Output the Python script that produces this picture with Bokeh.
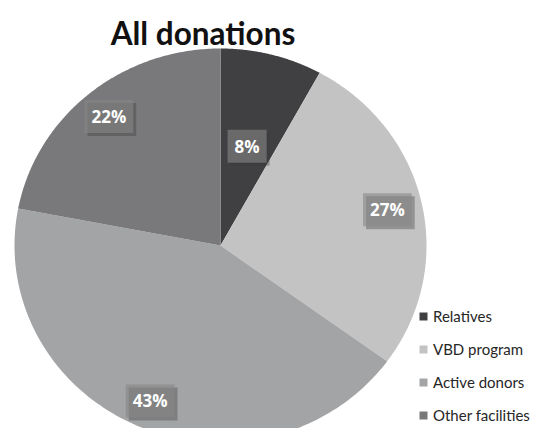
import numpy as np
from bokeh.plotting import figure
from bokeh.models import ColumnDataSource, Range1d, Legend, LegendItem, Label
from bokeh.core.properties import value
from bokeh.embed import file_html
from bokeh.resources import INLINE

# ---- data ----
categories = ["Relatives", "VBD program", "Active donors", "Other facilities"]
shares = [8, 27, 43, 22]
label_texts = ["8%", "27%", "43%", "22%"]
title_text = "All donations"

# ---- style ----
colors = ["#404042", "#c3c3c3", "#a3a4a6", "#79797b"]
label_radius = [0.52, 0.83, 0.86, 0.85]

W, H = 537, 428
# pixel geometry (figure pixels): centre and radii of the pie
cx, cy, rx, ry = 220, 245, 206, 197

p = figure(width=W, height=H, output_backend="svg", toolbar_location=None,
           x_range=Range1d(-cx / rx, (W - cx) / rx),
           y_range=Range1d(-(H - cy) / ry, cy / ry),
           min_border=0, outline_line_color=None)
p.axis.visible = False
p.grid.visible = False
p.background_fill_color = "white"

vals = np.array(shares, dtype=float)
fr = vals / vals.sum()
ends = np.cumsum(fr) * 2 * np.pi
starts = ends - fr * 2 * np.pi

renderers = []
for i in range(len(vals)):
    t = np.linspace(starts[i], ends[i], 120)
    xs = np.concatenate([[0.0], np.sin(t), [0.0]])
    ys = np.concatenate([[0.0], np.cos(t), [0.0]])
    r = p.patch(xs, ys, fill_color=colors[i], line_color=None)
    renderers.append(r)

mid = (starts + ends) / 2
lr = np.array(label_radius)
lsrc = ColumnDataSource(dict(x=lr * np.sin(mid), y=lr * np.cos(mid), t=label_texts))

# shadow
p.text("x", "y", text="t", source=lsrc, text_alpha=0.0,
       text_font=value("Open Sans"), text_font_style="bold", text_font_size="17px",
       text_align="center", text_baseline="middle", x_offset=3, y_offset=3,
       background_fill_color="#3a3a3a", background_fill_alpha=0.35, padding=(7, 5))
# box + text
p.text("x", "y", text="t", source=lsrc, text_color="white",
       text_font=value("Open Sans"), text_font_style="bold", text_font_size="17px",
       text_align="center", text_baseline="middle",
       background_fill_color="#878787", background_fill_alpha=0.6, padding=(7, 5))

p.add_layout(Label(x=(202.5 - cx) / rx, y=(cy - 32) / ry, text=title_text,
                   text_font="Lato", text_font_style="bold", text_font_size="31.5px",
                   text_align="center", text_baseline="alphabetic", text_color="#111111"))

items = [LegendItem(label=categories[i], renderers=[renderers[i]]) for i in range(len(vals))]
legend = Legend(items=items, location=(418, 3), orientation="vertical",
                glyph_width=10, glyph_height=10, label_height=20, spacing=13,
                label_standoff=5, padding=0, margin=0,
                border_line_color=None, background_fill_alpha=0.0,
                label_text_font="Lato", label_text_font_size="15px",
                label_text_color="#262626")
p.add_layout(legend, "center")

open("out.html", "w").write(file_html(p, INLINE))
